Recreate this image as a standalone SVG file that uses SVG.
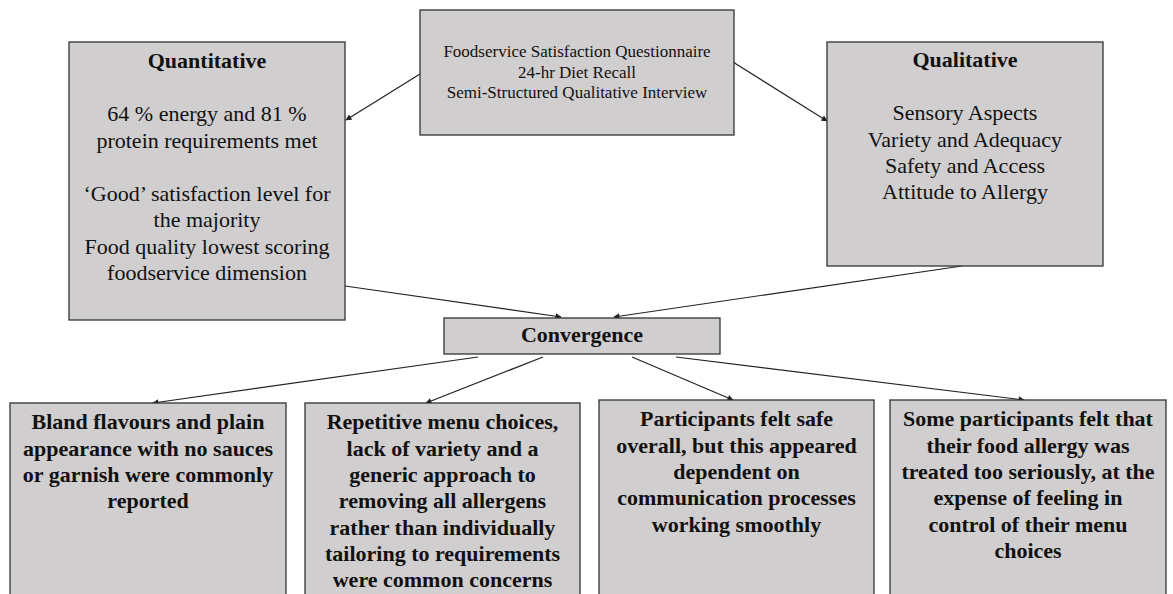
<svg xmlns="http://www.w3.org/2000/svg" width="1173" height="594" viewBox="0 0 1173 594">
<style>
.box{fill:#d0cece;stroke:#333;stroke-width:1.3}
.t{font-family:"Liberation Serif","Times New Roman",serif;fill:#111;text-anchor:middle}
.r{font-size:22px}
.s{font-size:17px}
.b{font-size:22px;font-weight:bold}
.c{stroke:#222;stroke-width:1.2;fill:none;marker-end:url(#ah)}
</style>
<defs>
<marker id="ah" viewBox="0 0 10 10" refX="9" refY="5" markerWidth="7" markerHeight="6" markerUnits="userSpaceOnUse" orient="auto">
<path d="M0,0 L10,5 L0,10 z" fill="#222"/>
</marker>
</defs>
<rect width="1173" height="594" fill="#fff"/>
<g id="connectors">
<line class="c" x1="420" y1="74" x2="346" y2="120"/>
<line class="c" x1="733" y1="62" x2="827" y2="121"/>
<line class="c" x1="345" y1="286" x2="561" y2="317"/>
<line class="c" x1="962" y1="266" x2="614" y2="317"/>
<line class="c" x1="478" y1="357" x2="153" y2="403"/>
<line class="c" x1="543" y1="357" x2="426" y2="403"/>
<line class="c" x1="632" y1="357" x2="733" y2="400"/>
<line class="c" x1="676" y1="357" x2="1024" y2="400"/>
</g>
<g id="methods">
<rect class="box" x="420" y="10" width="314" height="125"/>
<text class="t s" x="577" y="57">Foodservice Satisfaction Questionnaire</text>
<text class="t s" x="577" y="77.5">24-hr Diet Recall</text>
<text class="t s" x="577" y="98">Semi-Structured Qualitative Interview</text>
</g>
<g id="quantitative">
<rect class="box" x="69" y="42" width="276" height="278"/>
<text class="t b" x="207" y="68">Quantitative</text>
<text class="t r" x="207" y="121">64 % energy and 81 %</text>
<text class="t r" x="207" y="147.5">protein requirements met</text>
<text class="t r" x="207" y="200.5">‘Good’ satisfaction level for</text>
<text class="t r" x="207" y="227">the majority</text>
<text class="t r" x="207" y="253.5">Food quality lowest scoring</text>
<text class="t r" x="207" y="280">foodservice dimension</text>
</g>
<g id="qualitative">
<rect class="box" x="827" y="42" width="276" height="224"/>
<text class="t b" x="965" y="67">Qualitative</text>
<text class="t r" x="965" y="120">Sensory Aspects</text>
<text class="t r" x="965" y="146.5">Variety and Adequacy</text>
<text class="t r" x="965" y="172.5">Safety and Access</text>
<text class="t r" x="965" y="199">Attitude to Allergy</text>
</g>
<g id="convergence">
<rect class="box" x="444" y="318" width="276" height="36"/>
<text class="t b" x="582" y="342">Convergence</text>
</g>
<g id="finding1">
<rect class="box" x="10" y="403" width="276" height="200"/>
<text class="t b" x="148" y="429">Bland flavours and plain</text>
<text class="t b" x="148" y="455.5">appearance with no sauces</text>
<text class="t b" x="148" y="482">or garnish were commonly</text>
<text class="t b" x="148" y="508">reported</text>
</g>
<g id="finding2">
<rect class="box" x="305" y="403" width="275" height="200"/>
<text class="t b" x="442.5" y="429">Repetitive menu choices,</text>
<text class="t b" x="442.5" y="455.5">lack of variety and a</text>
<text class="t b" x="442.5" y="482">generic approach to</text>
<text class="t b" x="442.5" y="508">removing all allergens</text>
<text class="t b" x="442.5" y="534.5">rather than individually</text>
<text class="t b" x="442.5" y="561">tailoring to requirements</text>
<text class="t b" x="442.5" y="587">were common concerns</text>
</g>
<g id="finding3">
<rect class="box" x="599" y="400" width="275" height="200"/>
<text class="t b" x="736.5" y="426">Participants felt safe</text>
<text class="t b" x="736.5" y="452.5">overall, but this appeared</text>
<text class="t b" x="736.5" y="479">dependent on</text>
<text class="t b" x="736.5" y="505">communication processes</text>
<text class="t b" x="736.5" y="531.5">working smoothly</text>
</g>
<g id="finding4">
<rect class="box" x="890" y="400" width="276" height="200"/>
<text class="t b" x="1028" y="426">Some participants felt that</text>
<text class="t b" x="1028" y="452.5">their food allergy was</text>
<text class="t b" x="1028" y="479">treated too seriously, at the</text>
<text class="t b" x="1028" y="505">expense of feeling in</text>
<text class="t b" x="1028" y="531.5">control of their menu</text>
<text class="t b" x="1028" y="558">choices</text>
</g>
</svg>
